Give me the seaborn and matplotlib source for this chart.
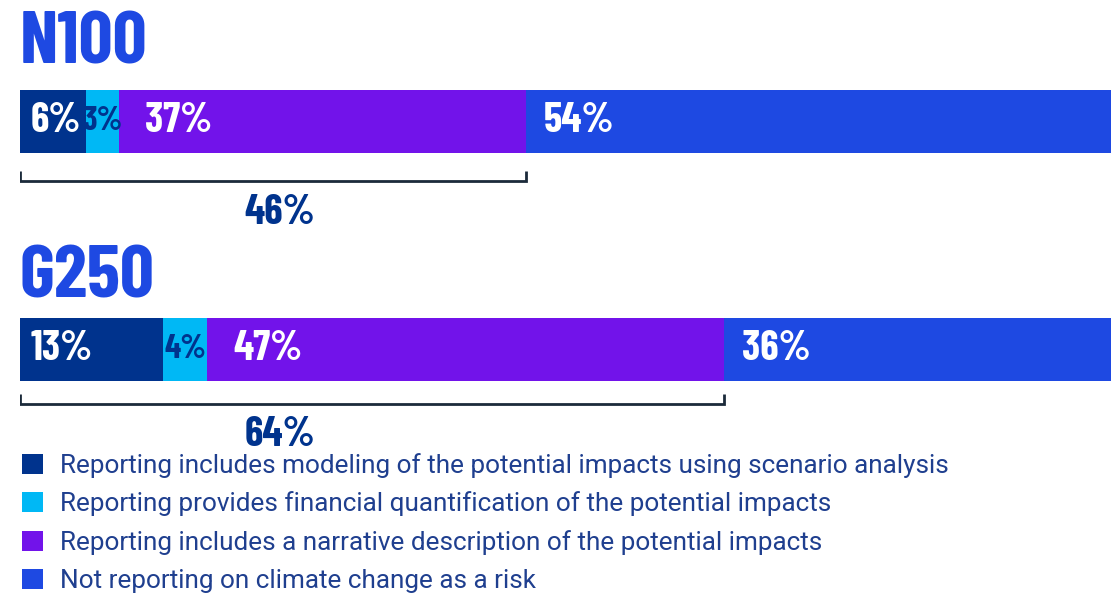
import matplotlib
matplotlib.use("Agg")
import matplotlib.pyplot as plt
from matplotlib import font_manager
import seaborn as sns
import pandas as pd
import numpy as np
from matplotlib.patches import Patch

# Data
groups = ["N100", "G250"]
categories = [
    "Reporting includes modeling of the potential impacts using scenario analysis",
    "Reporting provides financial quantification of the potential impacts",
    "Reporting includes a narrative description of the potential impacts",
    "Not reporting on climate change as a risk",
]
n100_values = [6, 3, 37, 54]
g250_values = [13, 4, 47, 36]
bracket_totals = [46, 64]

colors = ["#00338D", "#00B8F5", "#7213EA", "#1E49E2"]
label_colors = ["white", "#00338D", "white", "white"]
label_offsets = [1.0, 0.0, 2.4, 1.6]
title_color = "#1E49E2"
navy = "#00338D"
legend_text_color = "#1F3F8F"

sns.set_theme(style="white")

installed = {f.name for f in font_manager.fontManager.ttflist}
def first_font(cands):
    for c in cands:
        if c in installed:
            return c
    return "DejaVu Sans"

head_font = first_font(["Barlow Condensed", "Roboto Condensed", "Oswald", "Archivo Narrow"])
body_font = first_font(["Roboto", "Liberation Sans"])
plt.rcParams["font.family"] = [head_font, "DejaVu Sans"]

W, H = 1111, 603
fig = plt.figure(figsize=(W / 100, H / 100), dpi=100)
ax = fig.add_axes([20 / W, 0, 1 - 20 / W, 1])

# vertical layout: spacing between bar centres and first centre, in pixels
spacing = 228.0
c0 = 121.5
def ypx(py):
    return (py - c0) / spacing

bar_h = 63 / spacing
px_per_pct = 11.0
xmax = (W - 20) / px_per_pct

values = np.array([n100_values, g250_values])
cum = np.cumsum(values, axis=1)

# stacked bars: cumulative totals drawn from widest to narrowest
for j in range(len(categories) - 1, -1, -1):
    df = pd.DataFrame({"group": groups, "value": cum[:, j]})
    sns.barplot(data=df, x="value", y="group", orient="h", color=colors[j],
                saturation=1, width=bar_h, ax=ax, linewidth=0, order=groups)

ax.set_xlim(0, xmax)
ax.set_ylim(ypx(H), ypx(0))
ax.axis("off")

lab_kw = dict(fontweight="bold", va="center")

# segment labels
for i, g in enumerate(groups):
    starts = np.concatenate([[0], cum[i, :-1]])
    for j, v in enumerate(values[i]):
        if v < 5:
            ax.text(starts[j] + v / 2, i, f"{v}%", ha="center", fontsize=24,
                    color=label_colors[j], **lab_kw)
        else:
            ax.text(starts[j] + label_offsets[j], i, f"{v}%", ha="left",
                    fontsize=30, color=label_colors[j], **lab_kw)

# group titles
title_py = [45, 279]
for i, g in enumerate(groups):
    ax.text(0.0, ypx(title_py[i]), g, ha="left", va="center", fontsize=54,
            fontweight="bold", color=title_color)

# brackets spanning the reporting share, with the total underneath
bracket_py = [181, 404]
total_py = [213, 435]
total_x = (280 - 20) / px_per_pct
for i, t in enumerate(bracket_totals):
    yb = ypx(bracket_py[i])
    ytop = ypx(bracket_py[i] - 10)
    ax.plot([0, 0, t, t], [ytop, yb, yb, ytop], color="#1B2A3A", lw=2,
            solid_joinstyle="miter", solid_capstyle="butt")
    ax.text(total_x, ypx(total_py[i]), f"{t}%", ha="center", fontsize=30,
            color=navy, **lab_kw)

# legend
handles = [Patch(facecolor=c, edgecolor="none") for c in colors]
leg = fig.legend(handles, categories, loc="upper left",
                 bbox_to_anchor=(22 / W, 1 - 453 / H), frameon=False,
                 handlelength=0.8, handleheight=0.8, handletextpad=0.64,
                 labelspacing=0.52, borderaxespad=0, borderpad=0,
                 prop={"family": [body_font, "DejaVu Sans"], "size": 18.8})
for t in leg.get_texts():
    t.set_color(legend_text_color)

fig.savefig("out.png", dpi=100)
